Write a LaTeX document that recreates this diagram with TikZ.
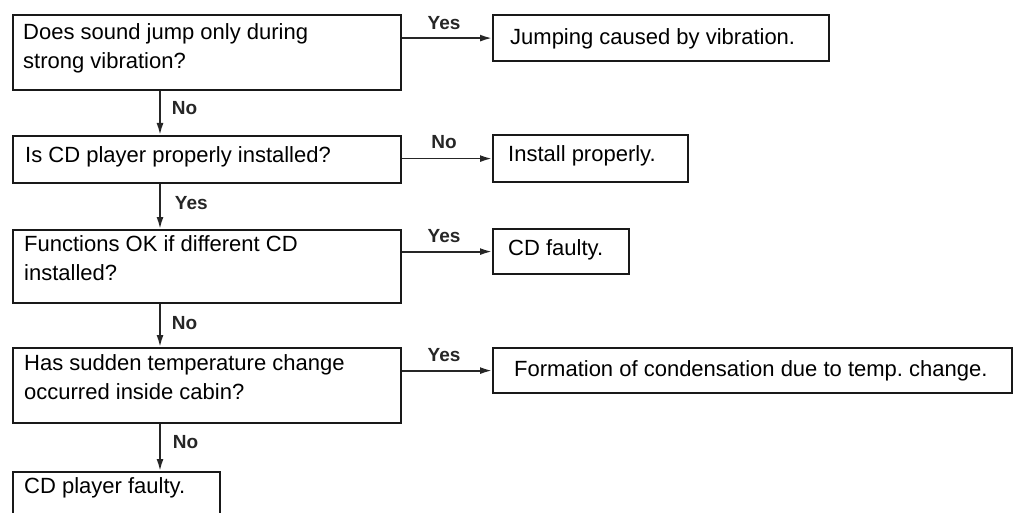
\documentclass[tikz,border=0pt]{standalone}
\usepackage{fontspec}
\setmainfont{Liberation Sans}
\usetikzlibrary{arrows.meta,calc}
\frenchspacing
\begin{document}
\begin{tikzpicture}[x=1pt,y=-1pt,
  box/.style={draw=black!90, line width=2.2pt, inner sep=0pt, anchor=north west},
  txt/.style={anchor=base west, inner sep=0pt, align=left, font=\fontsize{22}{28.5}\selectfont},
  flow/.style={draw=black!85, line width=1.8pt, -{Latex[length=12pt,width=7pt]}},
  lbl/.style={inner sep=0pt, font=\fontsize{19}{19}\selectfont\bfseries, text=black!85},
]
\useasboundingbox (0,0) rectangle (1014,513);
\clip (0,0) rectangle (1014,513);

\coordinate (spine) at (160,0);

% question boxes (left column); two-line texts are placed by their last baseline
\node[box, minimum width=388pt, minimum height=75pt] (q1) at (12,14) {};
\node[txt, font=\fontsize{22}{29.5}\selectfont] (q1t) at (23,69) {Does sound jump only during\\strong vibration?};
\node[box, minimum width=388pt, minimum height=47pt] (q2) at (12,135) {};
\node[txt] (q2t) at (25,163) {Is CD player properly installed?};
\node[box, minimum width=388pt, minimum height=73pt] (q3) at (12,229) {};
\node[txt] (q3t) at (24,280) {Functions OK if different CD\\installed?};
\node[box, minimum width=388pt, minimum height=75pt] (q4) at (12,347) {};
\node[txt] (q4t) at (24,399) {Has sudden temperature change\\occurred inside cabin?};
\node[box, minimum width=207pt, minimum height=70pt] (r5) at (12,471) {};
\node[txt] (r5t) at (24,493) {CD player faulty.};

% result boxes (right column)
\node[box, minimum width=336pt, minimum height=46pt] (r1) at (492,14) {};
\node[txt] (r1t) at (510,45) {Jumping caused by vibration.};
\node[box, minimum width=195pt, minimum height=47pt] (r2) at (492,134) {};
\node[txt] (r2t) at (508,162) {Install properly.};
\node[box, minimum width=136pt, minimum height=45pt] (r3) at (492,228) {};
\node[txt] (r3t) at (508,255) {CD faulty.};
\node[box, minimum width=519pt, minimum height=45pt] (r4) at (492,347) {};
\node[txt] (r4t) at (514,376) {Formation of condensation due to temp. change.};

% main flow down the left column
\draw[flow] (q1.south -| spine) -- node[lbl, anchor=west, xshift=11pt, yshift=5pt] (l1) {No} (q2.north -| spine);
\draw[flow] (q2.south -| spine) -- node[lbl, anchor=west, xshift=14pt, yshift=4pt] (l2) {Yes} (q3.north -| spine);
\draw[flow] (q3.south -| spine) -- node[lbl, anchor=west, xshift=11pt, yshift=3pt] (l3) {No} (q4.north -| spine);
\draw[flow] (q4.south -| spine) -- node[lbl, anchor=west, xshift=12pt, yshift=6pt] (l4) {No} (r5.north -| spine);

% branches to the right
\draw[flow] (r1.west -| q1.east) -- node[lbl, above=8pt, xshift=-3pt] (b1) {Yes} (r1.west);
\draw[flow] (r2.west -| q2.east) -- node[lbl, above=9pt, xshift=-3pt] (b2) {No} (r2.west);
\draw[flow] (r3.west -| q3.east) -- node[lbl, above=8pt, xshift=-3pt] (b3) {Yes} (r3.west);
\draw[flow] (r4.west -| q4.east) -- node[lbl, above=8pt, xshift=-3pt] (b4) {Yes} (r4.west);
\end{tikzpicture}
\end{document}
